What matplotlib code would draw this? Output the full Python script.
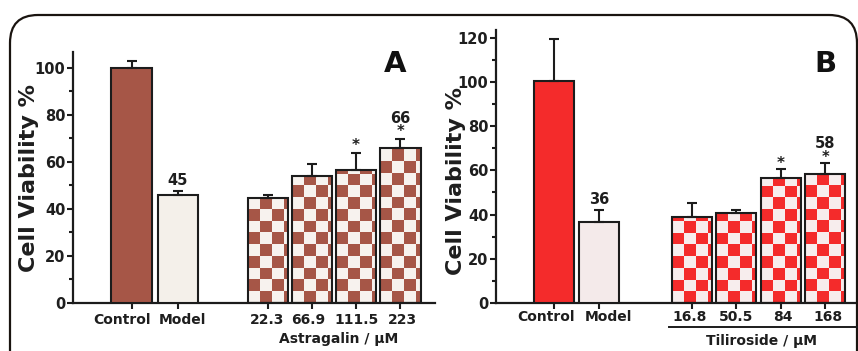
import numpy as np
import matplotlib
matplotlib.use("Agg")
import matplotlib.pyplot as plt
from matplotlib.patches import Rectangle, FancyBboxPatch
from matplotlib.colors import ListedColormap
from matplotlib.ticker import MultipleLocator
from matplotlib.lines import Line2D

plt.rcParams['font.family'] = ['DejaVu Sans']
plt.rcParams['font.weight'] = 'bold'

# ---------------- data ----------------
a_categories = ["Control", "Model", "22.3", "66.9", "111.5", "223"]
a_values = [100.0, 45.8, 44.6, 53.9, 56.5, 66.0]
a_errors = [3.0, 1.8, 1.5, 5.2, 7.2, 3.7]
a_value_labels = ["", "45", "", "", "", "66"]
a_stars = [False, False, False, False, True, True]
a_xlabel = "Astragalin / \u03bcM"

b_categories = ["Control", "Model", "16.8", "50.5", "84", "168"]
b_values = [100.6, 36.8, 38.9, 40.6, 56.4, 58.4]
b_errors = [18.7, 5.2, 6.5, 1.4, 4.2, 5.1]
b_value_labels = ["", "36", "", "", "", "58"]
b_stars = [False, False, False, False, True, True]
b_xlabel = "Tiliroside / \u03bcM"

# ---------------- style ----------------
W, H = 858, 351
PT = 0.72  # points per pixel at dpi 100
fig = plt.figure(figsize=(W / 100, H / 100), dpi=100)
fig.patch.set_facecolor("white")

frame = FancyBboxPatch((0.10, -0.5), 8.47, 3.86,
                       boxstyle="round,pad=0,rounding_size=0.28",
                       transform=fig.dpi_scale_trans, fill=False,
                       edgecolor="#1a1410", linewidth=1.6, zorder=0)
fig.patches.append(frame)

TXT = "#1e1e1e"
EDGE = "#1c1c1c"


def px_axes(x0, x1, y0, y1):
    return fig.add_axes([x0 / W, 1 - y1 / H, (x1 - x0) / W, (y1 - y0) / H])


def fig_text(x, y, s, **kw):
    fig.text(x / W, 1 - y / H, s, **kw)


def checker(ax, x0, width, height, sx, sy, c_dark, c_light):
    ncols = int(np.ceil(width / sx)) + 1
    nrows = int(np.ceil(height / sy)) + 1
    ii, jj = np.meshgrid(np.arange(nrows), np.arange(ncols), indexing="ij")
    arr = (ii + jj) % 2
    cmap = ListedColormap([c_light, c_dark])
    rect = Rectangle((x0, 0), width, height, transform=ax.transData,
                     facecolor="none")
    im = ax.imshow(arr, cmap=cmap, vmin=0, vmax=1, origin="lower",
                   extent=[x0, x0 + ncols * sx, 0, nrows * sy],
                   interpolation="nearest", aspect="auto", zorder=2)
    im.set_clip_path(rect)


def panel(ax, positions, cats, vals, errs, vlabels, stars, solid, light,
          check_light, ylim, xlim, ytop, sx, sy, value_offset, star_offset,
          label_dx, label_dy):
    ax.set_xlim(*xlim)
    ax.set_ylim(0, ylim)
    width = 0.9
    for i, (p, v) in enumerate(zip(positions, vals)):
        x0 = p - width / 2
        if i == 0:
            ax.add_patch(Rectangle((x0, 0), width, v, facecolor=solid,
                                   edgecolor=EDGE, lw=1.5, zorder=3))
        elif i == 1:
            ax.add_patch(Rectangle((x0, 0), width, v, facecolor=light,
                                   edgecolor=EDGE, lw=1.5, zorder=3))
        else:
            checker(ax, x0, width, v, sx, sy, solid, check_light)
            ax.add_patch(Rectangle((x0, 0), width, v, facecolor="none",
                                   edgecolor=EDGE, lw=1.5, zorder=3))
    ax.errorbar(positions, vals, yerr=[np.zeros(len(vals)), errs], fmt="none",
                ecolor=EDGE, elinewidth=1.5, capsize=3.5, capthick=1.5,
                zorder=4)
    for p, v, e, lab, st in zip(positions, vals, errs, vlabels, stars):
        top = v + e
        if st and lab:
            ax.text(p, top + star_offset - 3.4, lab + "\n*", ha="center",
                    va="bottom", fontsize=10.5, color=TXT, zorder=5,
                    linespacing=0.85, multialignment="center")
        elif st:
            ax.text(p, top + star_offset, "*", ha="center", va="center",
                    fontsize=11, color=TXT, zorder=5)
        elif lab:
            ax.text(p, top + value_offset, lab, ha="center", va="center",
                    fontsize=10.5, color=TXT, zorder=5)
    for s in ["top", "right"]:
        ax.spines[s].set_visible(False)
    for s in ["left", "bottom"]:
        ax.spines[s].set_linewidth(1.6)
        ax.spines[s].set_color(EDGE)
    ax.set_xticks(positions)
    ax.set_xticklabels([])
    for p, cat, dx in zip(positions, cats, label_dx):
        ax.annotate(cat, xy=(p, 0), xycoords=("data", "axes fraction"),
                    xytext=(dx * PT, -label_dy * PT),
                    textcoords="offset points", ha="center", va="center",
                    fontsize=10, color=TXT, fontweight="bold")
    ax.yaxis.set_minor_locator(MultipleLocator(10))
    ax.set_yticks([t for t in range(0, int(ytop) + 1, 20)])
    for lab in ax.get_yticklabels():
        lab.set_fontweight("bold")
        lab.set_fontsize(10.5)
        lab.set_color(TXT)
    ax.tick_params(axis="y", which="major", length=4.5, width=1.5, pad=1,
                   color=EDGE)
    ax.tick_params(axis="y", which="minor", length=3, width=1.5, color=EDGE)
    ax.tick_params(axis="x", which="major", length=4, width=1.5,
                   color=EDGE)
    ax.patch.set_alpha(0)


# Panel A
axA = px_axes(73, 435, 52, 303)
posA = [0, 1.03, 3.05, 4.03, 5.01, 6.0]
panel(axA, posA, a_categories, a_values, a_errors, a_value_labels, a_stars,
      "#A65647", "#F4F0EA", "#F7F2EE", 106.8, (-1.306, 6.77), 100,
      0.26, 5.0, 4.5, 3.5, [-9.5, 5, -1.5, -4, 0, 2], 17)
fig_text(29, 178, "Cell Viability %", rotation=90, ha="center", va="center",
         fontsize=16, fontweight="bold", color=TXT)
fig_text(395, 64, "A", ha="center", va="center", fontsize=21,
         fontweight="bold", color="#111111")
fig_text(339, 339, a_xlabel, ha="center", va="center", fontsize=10,
         fontweight="bold", color=TXT)

# Panel B
axB = px_axes(496, 858, 30, 303)
posB = [0, 1.01, 3.1, 4.09, 5.1, 6.09]
panel(axB, posB, b_categories, b_values, b_errors, b_value_labels, b_stars,
      "#F42B2B", "#F4EAEA", "#F7EDED", 123.5, (-1.30, 6.83), 120,
      0.263, 5.3, 5.0, 2.5, [-8, 9.5, -2, 0, 2, 2.5], 14)
fig_text(456, 181, "Cell Viability %", rotation=90, ha="center", va="center",
         fontsize=16, fontweight="bold", color=TXT)
fig_text(825, 64, "B", ha="center", va="center", fontsize=21,
         fontweight="bold", color="#111111")
fig_text(762, 341, b_xlabel, ha="center", va="center", fontsize=10,
         fontweight="bold", color=TXT)
fig.add_artist(Line2D([669 / W, 858 / W], [1 - 327 / H, 1 - 327 / H],
                      transform=fig.transFigure, color=EDGE, lw=1.4))

fig.savefig("out.png", dpi=100)
